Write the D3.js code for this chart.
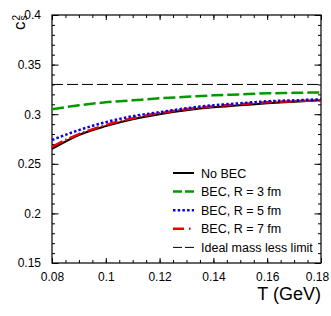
<!DOCTYPE html>
<html>
<head>
<meta charset="utf-8">
<script src="https://cdn.jsdelivr.net/npm/d3@7"></script>
<style>
  body { margin: 0; background: #fff; }
  svg { display: block; font-family: "Liberation Sans", Arial, sans-serif; }
</style>
</head>
<body>
<div id="chart"></div>
<script>
// temperatures (GeV)
const temps = [0.08, 0.09, 0.10, 0.11, 0.12, 0.13, 0.14, 0.15, 0.16, 0.17, 0.18];
// squared speed of sound
const noBEC = [0.265, 0.279, 0.288, 0.295, 0.300, 0.304, 0.307, 0.309, 0.311, 0.3125, 0.314];
const becR3 = [0.305, 0.309, 0.312, 0.314, 0.316, 0.3175, 0.319, 0.320, 0.321, 0.3215, 0.322];
const becR5 = [0.274, 0.284, 0.292, 0.298, 0.302, 0.306, 0.309, 0.311, 0.313, 0.314, 0.315];
const becR7 = [0.267, 0.280, 0.289, 0.296, 0.301, 0.305, 0.308, 0.310, 0.312, 0.313, 0.314];
const idealLimit = 0.33;
const xTicks = [0.08, 0.1, 0.12, 0.14, 0.16, 0.18];
const yTicks = [0.15, 0.2, 0.25, 0.3, 0.35, 0.4];

const W = 331, H = 316;
const margin = { left: 52, right: 10, top: 15, bottom: 53 };

const svg = d3.select("#chart").append("svg")
    .attr("width", W)
    .attr("height", H);

const x = d3.scaleLinear().domain([0.08, 0.18]).range([margin.left, W - margin.right]);
const y = d3.scaleLinear().domain([0.15, 0.4]).range([H - margin.bottom, margin.top]);

const fmt = d => String(+d.toFixed(3));
const xMinor = d3.range(0.08, 0.1801, 0.005).map(v => +v.toFixed(3));
const yMinor = d3.range(0.15, 0.4001, 0.01).map(v => +v.toFixed(3));

// frame
svg.append("rect")
    .attr("x", x(0.08)).attr("y", y(0.4))
    .attr("width", x(0.18) - x(0.08)).attr("height", y(0.15) - y(0.4))
    .attr("fill", "none").attr("stroke", "#000").attr("stroke-width", 1.2);

// ticks (inward), minor then major
const addAxis = (axis, tr) => {
    const g = svg.append("g").attr("transform", tr).call(axis);
    g.select(".domain").remove();
    g.selectAll(".tick line").attr("stroke", "#000").attr("stroke-width", 1);
    return g;
};
addAxis(d3.axisBottom(x).tickValues(xMinor).tickSize(-3).tickFormat(""), `translate(0,${y(0.15)})`);
addAxis(d3.axisTop(x).tickValues(xMinor).tickSize(-3).tickFormat(""), `translate(0,${y(0.4)})`);
addAxis(d3.axisLeft(y).tickValues(yMinor).tickSize(-3).tickFormat(""), `translate(${x(0.08)},0)`);
addAxis(d3.axisRight(y).tickValues(yMinor).tickSize(-3).tickFormat(""), `translate(${x(0.18)},0)`);

const xb = addAxis(d3.axisBottom(x).tickValues(xTicks).tickSize(-5).tickPadding(9).tickFormat(fmt), `translate(0,${y(0.15)})`);
addAxis(d3.axisTop(x).tickValues(xTicks).tickSize(-5).tickFormat(""), `translate(0,${y(0.4)})`);
const yl = addAxis(d3.axisLeft(y).tickValues(yTicks).tickSize(-6.5).tickPadding(11).tickFormat(fmt), `translate(${x(0.08)},0)`);
addAxis(d3.axisRight(y).tickValues(yTicks).tickSize(-6.5).tickFormat(""), `translate(${x(0.18)},0)`);

xb.selectAll("text").attr("font-size", 12).attr("fill", "#000").attr("font-family", "Liberation Sans, Arial, sans-serif");
yl.selectAll("text").attr("font-size", 12).attr("fill", "#000").attr("font-family", "Liberation Sans, Arial, sans-serif");
// keep the last x label inside the picture
xb.selectAll(".tick text").filter(d => d === 0.18).attr("dx", -4);

// series
const series = [
    { name: "No BEC", values: noBEC, color: "#000", width: 2, dash: null, legDash: null },
    { name: "BEC, R = 3 fm", values: becR3, color: "#009a00", width: 2.5, dash: "12,4", legDash: "9,3" },
    { name: "BEC, R = 5 fm", values: becR5, color: "#0000ee", width: 2.5, dash: "2.5,2.2", legDash: "2.5,2.2" },
    { name: "BEC, R = 7 fm", values: becR7, color: "#ee0000", width: 2.5, dash: "12,3,1.5,3", legDash: "11,5,1.5,4" }
];

const line = d3.line()
    .x((d, i) => x(temps[i]))
    .y(d => y(d))
    .curve(d3.curveMonotoneX);

// ideal massless limit
svg.append("line")
    .attr("x1", x(0.08)).attr("x2", x(0.18))
    .attr("y1", y(idealLimit)).attr("y2", y(idealLimit))
    .attr("stroke", "#000").attr("stroke-width", 1)
    .attr("stroke-dasharray", "11,4");

// drawing order: black, red, blue, green
[series[0], series[3], series[2], series[1]].forEach(s => {
    svg.append("path")
        .datum(s.values)
        .attr("d", line)
        .attr("fill", "none")
        .attr("stroke", s.color)
        .attr("stroke-width", s.width)
        .attr("stroke-dasharray", s.dash);
});

// legend
const legendItems = series.concat([{ name: "Ideal mass less limit", color: "#000", width: 1, legDash: "9,3" }]);
const leg = svg.append("g").attr("transform", "translate(173,173)");
legendItems.forEach((s, i) => {
    const gy = i * 18.6;
    leg.append("line")
        .attr("x1", 0).attr("x2", 21).attr("y1", gy).attr("y2", gy)
        .attr("stroke", s.color).attr("stroke-width", s.width)
        .attr("stroke-dasharray", s.legDash);
    leg.append("text")
        .attr("x", 28).attr("y", gy + 4.5)
        .attr("font-size", 12.5)
        .text(s.name);
});

// axis titles
svg.append("text")
    .attr("x", x(0.18)).attr("y", 300)
    .attr("text-anchor", "end")
    .attr("font-size", 18)
    .text("T (GeV)");

const yt = svg.append("g").attr("transform", "translate(25,30) rotate(-90)");
yt.append("text").attr("x", 0).attr("y", 0).attr("font-size", 17).text("c");
yt.append("text").attr("x", 9.5).attr("y", -5).attr("font-size", 10).text("2");
yt.append("text").attr("x", 9.5).attr("y", 1.5).attr("font-size", 10).text("s");
</script>
</body>
</html>
